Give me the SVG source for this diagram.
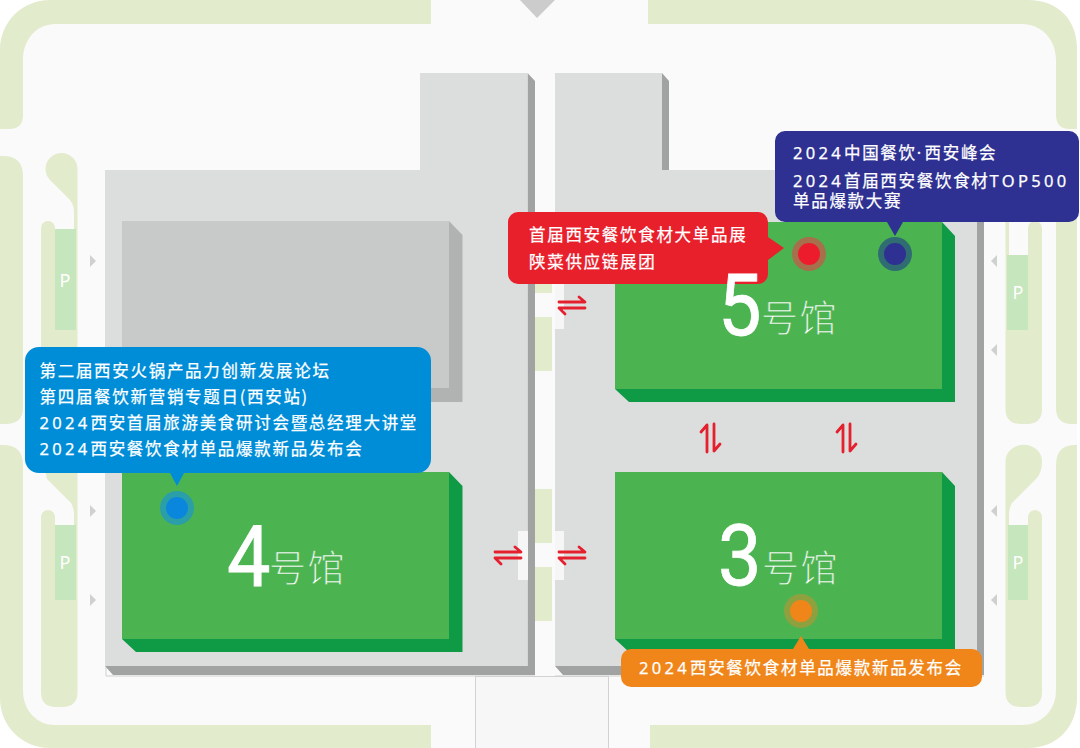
<svg xmlns="http://www.w3.org/2000/svg" xmlns:xlink="http://www.w3.org/1999/xlink" width="1080" height="748" viewBox="0 0 1080 748">
<defs>
<style>
.band{fill:#e3ebcd}
.park{fill:#c6e6bd}
.ptxt{font-family:"Noto Sans","Liberation Sans",sans-serif;font-size:18px;fill:#fff;text-anchor:middle}
.bld{fill:#dcdedd}
.bldS{fill:#a1a2a2}
.hall{fill:#4cb351}
.hallS{fill:#0f9a46}
.tri{fill:#cfd0d0}
.arr{fill:none;stroke:#e5202e;stroke-width:2.8;stroke-linecap:round;stroke-linejoin:round}
.tab{fill:#f6f6f6}
.t{font-family:"Noto Sans CJK SC","Noto Sans",sans-serif;font-size:16.500px;font-weight:400;fill:#fff;stroke:#fff;stroke-width:.25px;letter-spacing:1.700px}
.d{font-family:"Noto Sans",sans-serif;font-weight:400;letter-spacing:3.300px}
.num{font-family:Roboto,"Noto Sans",sans-serif;font-size:86px;font-weight:400;fill:#fff;stroke:#fff;stroke-width:.8px}
.hn{font-family:"Noto Sans CJK SC",sans-serif;font-size:37px;font-weight:300;fill:#fff;letter-spacing:1.500px;stroke:#4cb351;stroke-width:.5px}
</style>
<path id="ah" class="arr" d="M1 6H27L21 1M27 12H1L7 18"/>
<path id="av" class="arr" d="M7 28V1L1 8M14 0V27L20 20"/>
</defs>
<rect width="1080" height="748" fill="#fff"/>
<rect width="1077" height="748" rx="50" fill="#fafafa"/>
<g id="roads">
<rect x="475.500" y="676.500" width="133" height="72" fill="#f7f7f7" stroke="#d2d2d2"/>
<path d="M106 667V676H535M555 676H984" fill="none" stroke="#d0d0d0"/>
<polygon points="520,0 555,0 537,18" fill="#cccccc"/>
</g>
<g id="greenbelt">
<path class="band" d="M431 0H50C22 0 0 22 0 50V129H9Q23 129 23 115V60C23 38 38 24 55 24H431Z"/>
<path class="band" d="M0 156H3Q23 156 23 176V408Q23 424 5 424H0Z"/>
<path class="band" d="M0 445H3Q23 445 23 465V690C23 712 38 725 55 725H431V748H50C22 748 0 726 0 698Z"/>
<path class="band" d="M648 0H1028C1058 0 1077 20 1077 48V129H1070Q1056 129 1056 115V60C1056 38 1040 24 1022 24H648Z"/>
<path class="band" d="M1077 156H1075Q1056 156 1056 176V408Q1056 424 1072 424H1077Z"/>
<path class="band" d="M1077 445H1075Q1056 445 1056 465V690C1056 712 1040 725 1022 725H650V748H1028C1058 748 1077 726 1077 698Z"/>
<path class="band" d="M45.500 169A16 16 0 0 1 77.500 169V409Q77.500 424 62 424H56Q41 424 41 409V228A7 7 0 0 1 55 228V229H74V212Q74 205 70 200L50 180Q45.500 175 45.500 169Z"/>
<path class="band" d="M45.500 461A16 16 0 0 1 77.500 461V692Q77.500 707 62 707H56Q41 707 41 692V517A7 7 0 0 1 55 517V525H74V514Q74 508 71 503L47 479Q45.500 475 45.500 461Z"/>
<path class="band" d="M1037.500 169A16 16 0 0 0 1005.500 169V409Q1005.500 424 1021 424H1027Q1042 424 1042 409V228A7 7 0 0 0 1028 228V255H1009V212Q1009 205 1013 200L1033 180Q1037.500 175 1037.500 169Z"/>
<path class="band" d="M1005.500 461A18 16 0 0 1 1042 461Q1042 473 1036 479L1012 503Q1009 508 1009 514V525H1028V517A7 7 0 0 1 1042 517V692Q1042 707 1027 707H1021Q1005.500 707 1005.500 692Z"/>
<rect class="band" x="535" y="240" width="17" height="53"/>
<rect class="band" x="535" y="317" width="17" height="54"/>
<rect class="band" x="535" y="489" width="17" height="54"/>
<rect class="band" x="535" y="567" width="17" height="54"/>
</g>
<g id="parking">
<rect class="park" x="55" y="229" width="21" height="101"/>
<rect class="park" x="55" y="525" width="21" height="75"/>
<rect class="park" x="1007" y="255" width="21" height="75"/>
<rect class="park" x="1008" y="525" width="20" height="75"/>
<text class="ptxt" x="65" y="287">P</text>
<text class="ptxt" x="65" y="569">P</text>
<text class="ptxt" x="1018" y="299">P</text>
<text class="ptxt" x="1018" y="569">P</text>
</g>
<g id="entrances">
<polygon class="tri" points="90,255 96,261 90,267"/>
<polygon class="tri" points="90,505 96,511 90,517"/>
<polygon class="tri" points="90,594 96,600 90,606"/>
<polygon class="tri" points="997,255 991,261 997,267"/>
<polygon class="tri" points="997,344 991,350 997,356"/>
<polygon class="tri" points="997,505 991,511 997,517"/>
<polygon class="tri" points="997,594 991,600 997,606"/>
</g>
<g id="building-left">
<polygon class="bldS" points="527.500,73 535,81 535,675 113,675 105,666 527.500,666"/>
<polygon class="bld" points="420,73 527.500,73 527.500,666 105,666 105,170 420,170"/>
<polygon fill="#b1b2b2" points="449,221 462.500,235 462.500,402 135,402 122,388 449,388"/>
<rect x="122" y="221" width="327" height="167" fill="#c8c9c9"/>
</g>
<g id="building-right">
<polygon class="bldS" points="662,73 669,81 669,170 977,170 984,178 984,675 563,675 555,666 977,666 977,170 662,170"/>
<polygon class="bld" points="555,73 662,73 662,170 977,170 977,666 555,666"/>
</g>
<g id="passages">
<rect class="tab" x="518" y="531" width="10" height="49"/>
<rect class="tab" x="555" y="531" width="9" height="49"/>
<rect class="tab" x="555" y="280" width="9" height="49"/>
</g>
<g id="hall-4">
<polygon class="hallS" points="449,472 462.500,486 462.500,652 136,652 122,639 449,639"/>
<rect class="hall" x="122" y="472" width="327" height="167"/>
<text class="num" transform="translate(227 586) scale(.9 1)">4</text>
<text class="hn" x="269" y="582">号馆</text>
</g>
<g id="hall-5">
<polygon class="hallS" points="942,222 955,236 955,402 629,402 615,389 942,389"/>
<rect class="hall" x="615" y="222" width="327" height="167"/>
</g>
<g id="hall-3">
<polygon class="hallS" points="942,472 955,486 955,652 629,652 615,639 942,639"/>
<rect class="hall" x="615" y="472" width="327" height="167"/>
<text class="num" transform="translate(718 585) scale(.9 1)">3</text>
<text class="hn" x="762" y="582">号馆</text>
</g>
<g id="connectors">
<use xlink:href="#ah" href="#ah" x="494" y="546"/>
<use xlink:href="#ah" href="#ah" x="558" y="546"/>
<use xlink:href="#ah" href="#ah" x="558" y="296"/>
<use xlink:href="#av" href="#av" x="700" y="424"/>
<use xlink:href="#av" href="#av" x="836" y="424"/>
</g>
<g id="marker-blue">
<circle cx="177" cy="508" r="17" fill="#2b9fa8"/>
<circle cx="177" cy="508" r="11" fill="#0a87dc"/>
<path d="M25 361a14 14 0 0 1 14-14H417a14 14 0 0 1 14 14V459a14 14 0 0 1-14 14H184L177 486L170 473H39a14 14 0 0 1-14-14Z" fill="#008dd8"/>
<text class="t" x="39.500" y="377">第二届西安火锅产品力创新发展论坛</text>
<text class="t" x="39.500" y="403">第四届餐饮新营销专题日(西安站)</text>
<text class="t" x="39.500" y="429"><tspan class="d">2024</tspan>西安首届旅游美食研讨会暨总经理大讲堂</text>
<text class="t" x="39.500" y="455"><tspan class="d">2024</tspan>西安餐饮食材单品爆款新品发布会</text>
</g>
<g id="marker-red">
<circle cx="809" cy="254" r="17" fill="#a6704c"/>
<circle cx="809" cy="254" r="11" fill="#ed1c2c"/>
<path d="M508 222a10 10 0 0 1 10-10H758a10 10 0 0 1 10 10V237L784 248L768 260V274a10 10 0 0 1-10 10H518a10 10 0 0 1-10-10Z" fill="#e8202c"/>
<text class="t" x="529" y="241">首届西安餐饮食材大单品展</text>
<text class="t" x="529" y="268">陕菜供应链展团</text>
</g>
<g id="marker-navy">
<circle cx="895" cy="254" r="17" fill="#2f6d73"/>
<circle cx="895" cy="254" r="11" fill="#2e3191"/>
<path d="M775 141a10 10 0 0 1 10-10H1069a10 10 0 0 1 10 10V212a10 10 0 0 1-10 10H903L895 236L887 222H785a10 10 0 0 1-10-10Z" fill="#2e3191"/>
<text class="t" x="793" y="159"><tspan class="d">2024</tspan>中国餐饮<tspan class="d">·</tspan>西安峰会</text>
<text class="t" x="793" y="187"><tspan class="d">2024</tspan>首届西安餐饮食材<tspan class="d">TOP500</tspan></text>
<text class="t" x="793" y="207">单品爆款大赛</text>
</g>
<g id="marker-orange">
<circle cx="801" cy="611" r="17" fill="#8fa13f"/>
<circle cx="801" cy="611" r="11" fill="#f0861a"/>
<path d="M621 659a10 10 0 0 1 10-10H793L801 636L809 649H972a10 10 0 0 1 10 10V677a10 10 0 0 1-10 10H631a10 10 0 0 1-10-10Z" fill="#f0861a"/>
<text class="t" x="639" y="674"><tspan class="d">2024</tspan>西安餐饮食材单品爆款新品发布会</text>
</g>
<g id="hall-5-label">
<text class="num" transform="translate(718 335) scale(.9 1)">5</text>
<text class="hn" x="761" y="332">号馆</text>
</g>
</svg>
